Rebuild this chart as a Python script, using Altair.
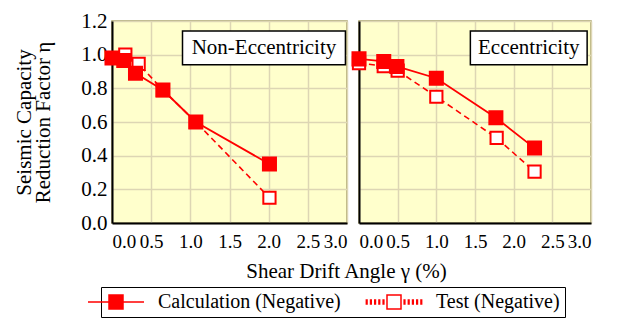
import altair as alt
import pandas as pd

FONT = "Liberation Serif"
RED = "#FF0000"

series_names = ["Calculation (Negative)", "Test (Negative)"]

# Non-Eccentricity panel
ne_calc_x = [0.0, 0.15, 0.30, 0.65, 1.07, 2.01]
ne_calc_y = [0.98, 0.965, 0.89, 0.79, 0.60, 0.35]
ne_test_x = [0.17, 0.34, 0.65, 1.07, 2.01]
ne_test_y = [1.00, 0.945, 0.79, 0.60, 0.15]

# Eccentricity panel
ec_calc_x = [0.0, 0.32, 0.49, 1.00, 1.77, 2.27]
ec_calc_y = [0.975, 0.96, 0.93, 0.86, 0.625, 0.445]
ec_test_x = [0.0, 0.32, 0.50, 1.00, 1.78, 2.27]
ec_test_y = [0.95, 0.932, 0.905, 0.75, 0.505, 0.305]

panel_labels = ["Non-Eccentricity", "Eccentricity"]
label_box_x1 = [0.90, 1.44]
label_box_x2 = [2.98, 2.95]
label_box_y1 = [0.94, 0.94]
label_box_y2 = [1.14, 1.14]

x_ticks = [0.0, 0.5, 1.0, 1.5, 2.0, 2.5, 3.0]
y_ticks = [0.0, 0.2, 0.4, 0.6, 0.8, 1.0, 1.2]

x_title = "Shear Drift Angle γ (%)"
y_title = ["Seismic Capacity", "Reduction Factor η"]

# legend symbols: line + square; a zero-length segment at the far left only widens the bounds
CALC_PATH = "M-5.3,0L-5.3,0M-4,0H-1M1,0H4M-1,-1H1V1H-1Z"
dash_pos = [1.45, 2.05, 2.65, 3.25, 3.85]
TEST_PATH = "M-1,-1H1V1H-1Z" + "".join(
    f"M{p:.2f},-0.3h0.1v0.6h-0.1ZM{-p - 0.1:.2f},-0.3h0.1v0.6h-0.1Z" for p in dash_pos
)

legend = alt.Legend(
    orient="none",
    legendX=-11,
    legendY=266,
    direction="horizontal",
    title=None,
    strokeColor="black",
    padding=5,
    labelFont=FONT,
    labelFontSize=20,
    labelColor="black",
    labelOffset=32,
    labelLimit=400,
    columnPadding=22,
    symbolSize=196,
    symbolStrokeWidth=1.5,
    symbolOpacity=1,
)


def panel(idx, cx, cy, tx, ty, width, first):
    df = pd.DataFrame(
        {
            "x": tx + cx,
            "y": ty + cy,
            "series": [series_names[1]] * len(tx) + [series_names[0]] * len(cx),
        }
    )
    box = pd.DataFrame(
        {
            "label": [panel_labels[idx]],
            "x1": [label_box_x1[idx]],
            "x2": [label_box_x2[idx]],
            "y1": [label_box_y1[idx]],
            "y2": [label_box_y2[idx]],
        }
    )
    xsc = alt.Scale(domain=[0, 3], nice=False, zero=False)
    ysc = alt.Scale(domain=[0, 1.2], nice=False)
    xaxis = alt.Axis(
        values=x_ticks,
        format=".1f",
        title=x_title if first else None,
        titleX=234 if first else alt.Undefined,
        labelOverlap=False,
        labelFlush=True,
        labelPadding=9,
        titlePadding=9,
        ticks=False,
        labelFont=FONT,
        labelFontSize=19,
        labelColor="black",
        titleFont=FONT,
        titleFontSize=21,
        titleFontWeight="normal",
        titleColor="black",
        domainColor="black",
        domainWidth=2,
        gridColor="#DDD6B4",
        gridWidth=1.5,
    )
    yaxis = alt.Axis(
        values=y_ticks,
        format=".1f",
        title=y_title if first else None,
        labels=first,
        labelOverlap=False,
        labelPadding=5,
        titlePadding=27,
        ticks=False,
        labelFont=FONT,
        labelFontSize=21,
        labelColor="black",
        titleFont=FONT,
        titleFontSize=21,
        titleFontWeight="normal",
        titleColor="black",
        titleLineHeight=19,
        domainColor="black",
        domainWidth=2,
        gridColor="#DDD6B4",
        gridWidth=1.5,
    )

    def X(f):
        return alt.X(f, scale=xsc, axis=xaxis)

    def Y(f):
        return alt.Y(f, scale=ysc, axis=yaxis)

    base = alt.Chart(df)
    test_line = (
        base.transform_filter(alt.datum.series == series_names[1])
        .mark_line(color=RED, strokeWidth=1.6, strokeDash=[6, 4])
        .encode(x=X("x:Q"), y=Y("y:Q"))
    )
    calc_line = (
        base.transform_filter(alt.datum.series == series_names[0])
        .mark_line(color=RED, strokeWidth=1.8)
        .encode(x=X("x:Q"), y=Y("y:Q"))
    )
    test_pts = (
        base.transform_filter(alt.datum.series == series_names[1])
        .mark_point(shape="square", filled=True, fill="white", size=150, stroke=RED, strokeWidth=2, opacity=1)
        .encode(x=X("x:Q"), y=Y("y:Q"))
    )
    calc_pts = (
        base.transform_filter(alt.datum.series == series_names[0])
        .mark_point(shape="square", filled=True, fill=RED, size=170, stroke=RED, strokeWidth=2, opacity=1)
        .encode(x=X("x:Q"), y=Y("y:Q"))
    )
    layers = [test_line, calc_line]
    bchart = alt.Chart(box)
    rect = bchart.mark_rect(fill="white", stroke="black", strokeWidth=1.5).encode(
        x=X("x1:Q"), x2="x2:Q", y=Y("y1:Q"), y2="y2:Q"
    )
    txt = (
        bchart.transform_calculate(xm="(datum.x1 + datum.x2) / 2", ym="(datum.y1 + datum.y2) / 2")
        .mark_text(font=FONT, fontSize=21, color="black", baseline="middle", align="center")
        .encode(x=X("xm:Q"), y=Y("ym:Q"), text="label:N")
    )
    layers += [rect, txt, test_pts, calc_pts]
    if first:
        # legend-only layer: no rows survive the filter, the legend keeps its explicit domain
        legend_layer = (
            base.transform_filter("false")
            .mark_point(filled=True, opacity=1)
            .encode(
                x=X("x:Q"),
                y=Y("y:Q"),
                fill=alt.Fill("series:N", scale=alt.Scale(domain=series_names, range=[RED, "white"]), legend=legend),
                stroke=alt.Stroke("series:N", scale=alt.Scale(domain=series_names, range=[RED, RED]), legend=legend),
                shape=alt.Shape("series:N", scale=alt.Scale(domain=series_names, range=[CALC_PATH, TEST_PATH]), legend=legend),
            )
        )
        layers.append(legend_layer)
    return alt.layer(*layers).properties(width=width, height=202)


left = panel(0, ne_calc_x, ne_calc_y, ne_test_x, ne_test_y, 235, True)
right = panel(1, ec_calc_x, ec_calc_y, ec_test_x, ec_test_y, 232, False)

chart = (
    alt.hconcat(left, right, spacing=12, bounds="flush")
    .resolve_scale(fill="shared", shape="shared", stroke="shared")
    .properties(padding={"left": 5, "top": 1, "right": 5, "bottom": 0})
    .configure_view(fill="#FFFFCC", stroke="#A39C62", strokeWidth=1.5)
)

chart.save("out.html", embed_options={"renderer": "svg", "actions": False})
